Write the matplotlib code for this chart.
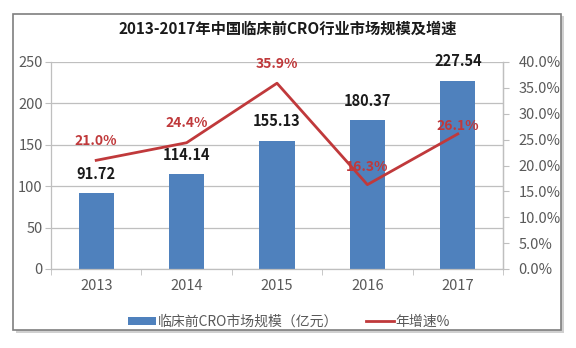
import matplotlib
matplotlib.use("Agg")
import matplotlib.pyplot as plt
from matplotlib.patches import Rectangle, Patch
from matplotlib.lines import Line2D
import numpy as np

plt.rcParams['font.family'] = ['Noto Sans CJK SC', 'DejaVu Sans']

years = ['2013', '2014', '2015', '2016', '2017']
market_size = [91.72, 114.14, 155.13, 180.37, 227.54]
growth_rate = [21.0, 24.4, 35.9, 16.3, 26.1]
left_ticks = [0, 50, 100, 150, 200, 250]
right_ticks = [0, 5, 10, 15, 20, 25, 30, 35, 40]

bar_color = '#4F81BD'
line_color = '#C0393B'
grid_color = '#BFBFBF'
text_color = '#595959'

W, H = 576, 348
fig = plt.figure(figsize=(W / 100, H / 100), dpi=100)

# outer frame with a soft shadow
fig.patches.append(Rectangle((16 / W, 1 - 333 / H), 548 / W, 317 / H,
                             transform=fig.transFigure, facecolor='#D0D0D0',
                             edgecolor='none', zorder=0))
fig.patches.append(Rectangle((13 / W, 1 - 330 / H), 548 / W, 316 / H,
                             transform=fig.transFigure, facecolor='white',
                             edgecolor='#7F7F7F', linewidth=1.2, zorder=1))

ax = fig.add_axes([51 / W, 1 - 269 / H, 452 / W, 207 / H])
ax.set_zorder(2)
ax.patch.set_alpha(0)

x = np.arange(len(years))
ax.bar(x, market_size, width=0.39, color=bar_color, zorder=2)
ax.set_xlim(-0.5, len(years) - 0.5)
ax.set_ylim(0, 250)
ax.set_yticks(left_ticks)
ax.set_yticklabels([str(t) for t in left_ticks], fontsize=10.5, color=text_color)
ax.yaxis.grid(True, color=grid_color, linewidth=0.9, zorder=0)
ax.set_axisbelow(True)
ax.set_xticks(x)
ax.set_xticklabels(years, fontsize=10.5, color=text_color)
ax.set_xticks(np.arange(-0.5, len(years), 1.0), minor=True)
ax.tick_params(axis='x', which='major', length=0, pad=7)
ax.tick_params(axis='x', which='minor', length=4, color=grid_color, direction='out')
ax.tick_params(axis='y', length=4, color=grid_color, pad=2)
ax.spines['top'].set_visible(False)
for s in ['left', 'bottom', 'right']:
    ax.spines[s].set_color(grid_color)
    ax.spines[s].set_linewidth(0.9)

for xi, v in zip(x, market_size):
    ax.annotate(f'{v:.2f}', (xi, v), xytext=(0, 8), textcoords='offset points',
                ha='center', va='bottom', fontsize=10.5, fontweight='bold',
                color='#1A1A1A')

ax2 = ax.twinx()
ax2.set_zorder(3)
ax2.plot(x, growth_rate, color=line_color, linewidth=2.0, zorder=3)
ax2.set_ylim(0, 40)
ax2.set_yticks(right_ticks)
ax2.set_yticklabels([f'{t:.1f}%' for t in right_ticks], fontsize=10.5, color=text_color)
ax2.tick_params(axis='y', length=4, color=grid_color, pad=7)
for s in ['top', 'left', 'bottom']:
    ax2.spines[s].set_visible(False)
ax2.spines['right'].set_color(grid_color)
ax2.spines['right'].set_linewidth(0.9)

offsets = [14, 14, 14, 13, 6]
for xi, v, off in zip(x, growth_rate, offsets):
    ax2.annotate(f'{v:.1f}%', (xi, v), xytext=(0, off), textcoords='offset points',
                 ha='center', va='center', fontsize=10, fontweight='bold',
                 color=line_color)

fig.text(288 / W, 1 - 29 / H, '2013-2017年中国临床前CRO行业市场规模及增速',
         ha='center', va='center', fontsize=11, fontweight='bold', color='#1A1A1A')

handles = [Patch(facecolor=bar_color, edgecolor='none'),
           Line2D([0], [0], color=line_color, linewidth=2.0)]
fig.legend(handles, ['临床前CRO市场规模（亿元）', '年增速%'],
           loc='center', bbox_to_anchor=(289 / W, 1 - 322 / H), ncol=2,
           frameon=False, fontsize=10, handlelength=2.0, handleheight=0.55,
           columnspacing=2.0, handletextpad=0.15, labelcolor=text_color)

fig.savefig('out.png', dpi=100)
